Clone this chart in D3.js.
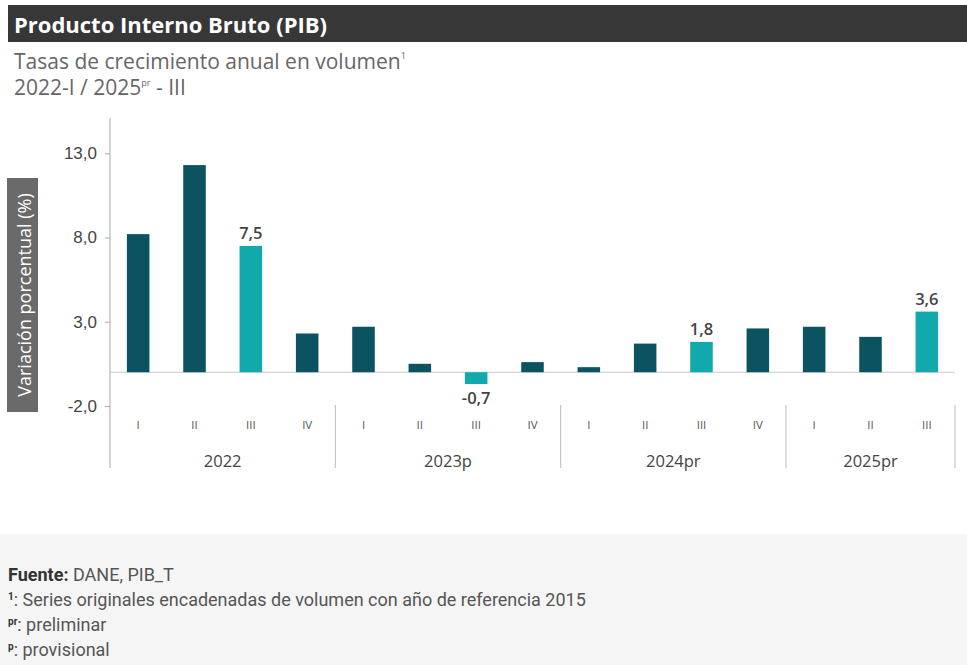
<!DOCTYPE html>
<html>
<head>
<meta charset="utf-8">
<script src="https://cdn.jsdelivr.net/npm/d3@7"></script>
<style>
  body { margin: 0; background: #fff; }
  svg { display: block; }
</style>
</head>
<body>
<div id="chart"></div>
<script>
// data
const years = ["2022", "2023p", "2024pr", "2025pr"];
const quarters = ["I", "II", "III", "IV", "I", "II", "III", "IV", "I", "II", "III", "IV", "I", "II", "III"];
const yearOfBar = [0, 0, 0, 0, 1, 1, 1, 1, 2, 2, 2, 2, 3, 3, 3];
const values = [8.2, 12.3, 7.5, 2.3, 2.7, 0.5, -0.7, 0.6, 0.3, 1.7, 1.8, 2.6, 2.7, 2.1, 3.6];
const highlighted = [2, 6, 10, 14];   // third quarters, labelled
const yTicks = [-2, 3, 8, 13];

const W = 967, H = 665;
const darkTeal = "#0b5360", lightTeal = "#12a9ac";

// comma decimals, plain hyphen for negatives
const fmt = d => d3.format(".1f")(d).replace(".", ",").replace("\u2212", "-");

const svg = d3.select("#chart").append("svg")
    .attr("width", W)
    .attr("height", H)
    .style("font-family", "'Open Sans', sans-serif");

// header bar
svg.append("rect").attr("x", 8).attr("y", 5).attr("width", W - 8).attr("height", 37).attr("fill", "#373737");
svg.append("text").attr("x", 14).attr("y", 33)
    .attr("fill", "#fff").attr("font-size", 22).attr("font-weight", 700)
    .text("Producto Interno Bruto (PIB)");

const sub = svg.append("text").attr("x", 14).attr("y", 69).attr("fill", "#666").attr("font-size", 21);
sub.append("tspan").text("Tasas de crecimiento anual en volumen");
sub.append("tspan").attr("font-size", 9).attr("dy", -10).text("1");
const sub2 = svg.append("text").attr("x", 14).attr("y", 95).attr("fill", "#666").attr("font-size", 21);
sub2.append("tspan").text("2022-I / 2025");
sub2.append("tspan").attr("font-size", 9).attr("dy", -9).text("pr");
sub2.append("tspan").attr("dy", 9).text(" - III");

// footer background
svg.append("rect").attr("x", 0).attr("y", 534).attr("width", W).attr("height", H - 534).attr("fill", "#f5f5f5");

// scales
const x = d3.scaleBand()
    .domain(d3.range(values.length))
    .range([110, 955])
    .paddingInner(0.6)
    .paddingOuter(0.3);
const step = x.step();
const x0 = 110;

const y = d3.scaleLinear()
    .domain([-2, 13])
    .range([405.9, 153.3]);

// y axis
const yAxis = svg.append("g")
    .attr("transform", "translate(110,0)")
    .call(d3.axisLeft(y).tickValues(yTicks).tickSize(5).tickPadding(8).tickFormat(fmt));
yAxis.select(".domain").remove();
yAxis.selectAll(".tick line").attr("stroke", "#aaa");
yAxis.selectAll(".tick text").attr("fill", "#444").attr("font-size", 17);
svg.append("line").attr("x1", 110).attr("x2", 110).attr("y1", 118).attr("y2", 468)
    .attr("stroke", "#aaa");

// y title box
svg.append("rect").attr("x", 7).attr("y", 178).attr("width", 31).attr("height", 234).attr("fill", "#6a6a6a");
svg.append("text")
    .attr("transform", "translate(31," + (178 + 117) + ") rotate(-90)")
    .attr("text-anchor", "middle").attr("fill", "#fff").attr("font-size", 18)
    .text("Variación porcentual (%)");

// zero line
svg.append("line").attr("x1", 110).attr("x2", 955)
    .attr("y1", y(0)).attr("y2", y(0))
    .attr("stroke", "#c8c8c8");

// bars
svg.selectAll("rect.bar")
    .data(values)
    .enter()
    .append("rect")
    .attr("class", "bar")
    .attr("x", (d, i) => x(i))
    .attr("width", x.bandwidth())
    .attr("y", d => y(Math.max(0, d)))
    .attr("height", d => Math.abs(y(d) - y(0)))
    .attr("fill", (d, i) => highlighted.includes(i) ? lightTeal : darkTeal);

// value labels
svg.selectAll("text.val")
    .data(highlighted)
    .enter()
    .append("text")
    .attr("class", "val")
    .attr("x", i => x(i) + x.bandwidth() / 2)
    .attr("y", i => values[i] >= 0 ? y(values[i]) - 7 : y(values[i]) + 20)
    .attr("text-anchor", "middle")
    .attr("fill", "#444").attr("font-size", 16.5).attr("font-weight", 600)
    .text(i => fmt(values[i]));

// quarter labels
svg.selectAll("text.q")
    .data(quarters)
    .enter()
    .append("text")
    .attr("class", "q")
    .attr("x", (d, i) => x(i) + x.bandwidth() / 2)
    .attr("y", 429)
    .attr("text-anchor", "middle")
    .attr("fill", "#555").attr("font-size", 11.5)
    .text(d => d);

// year groups
const groups = years.map((yr, k) => {
    const idx = d3.range(values.length).filter(i => yearOfBar[i] === k);
    return { yr: yr, start: x0 + idx[0] * step, end: x0 + (idx[idx.length - 1] + 1) * step };
});
svg.selectAll("line.sep")
    .data(groups)
    .enter()
    .append("line")
    .attr("class", "sep")
    .attr("x1", d => d.end).attr("x2", d => d.end)
    .attr("y1", 405).attr("y2", 468)
    .attr("stroke", "#bbb");
svg.selectAll("text.yr")
    .data(groups)
    .enter()
    .append("text")
    .attr("class", "yr")
    .attr("x", d => (d.start + d.end) / 2)
    .attr("y", 467)
    .attr("text-anchor", "middle")
    .attr("fill", "#444").attr("font-size", 16.5)
    .text(d => d.yr);

// footer notes
const foot = svg.append("g").style("font-family", "Roboto, sans-serif").attr("fill", "#555").attr("font-size", 18);
const f1 = foot.append("text").attr("x", 8).attr("y", 581);
f1.append("tspan").attr("font-weight", 700).attr("fill", "#333").text("Fuente:");
f1.append("tspan").text(" DANE, PIB_T");
const f2 = foot.append("text").attr("x", 8).attr("y", 606);
f2.append("tspan").attr("font-size", 10).attr("dy", -6).attr("font-weight", 700).attr("fill", "#333").text("1");
f2.append("tspan").attr("dy", 6).text(": Series originales encadenadas de volumen con año de referencia 2015");
const f3 = foot.append("text").attr("x", 8).attr("y", 631);
f3.append("tspan").attr("font-size", 10).attr("dy", -6).attr("font-weight", 700).attr("fill", "#333").text("pr");
f3.append("tspan").attr("dy", 6).text(": preliminar");
const f4 = foot.append("text").attr("x", 8).attr("y", 656);
f4.append("tspan").attr("font-size", 10).attr("dy", -6).attr("font-weight", 700).attr("fill", "#333").text("p");
f4.append("tspan").attr("dy", 6).text(": provisional");
</script>
</body>
</html>
